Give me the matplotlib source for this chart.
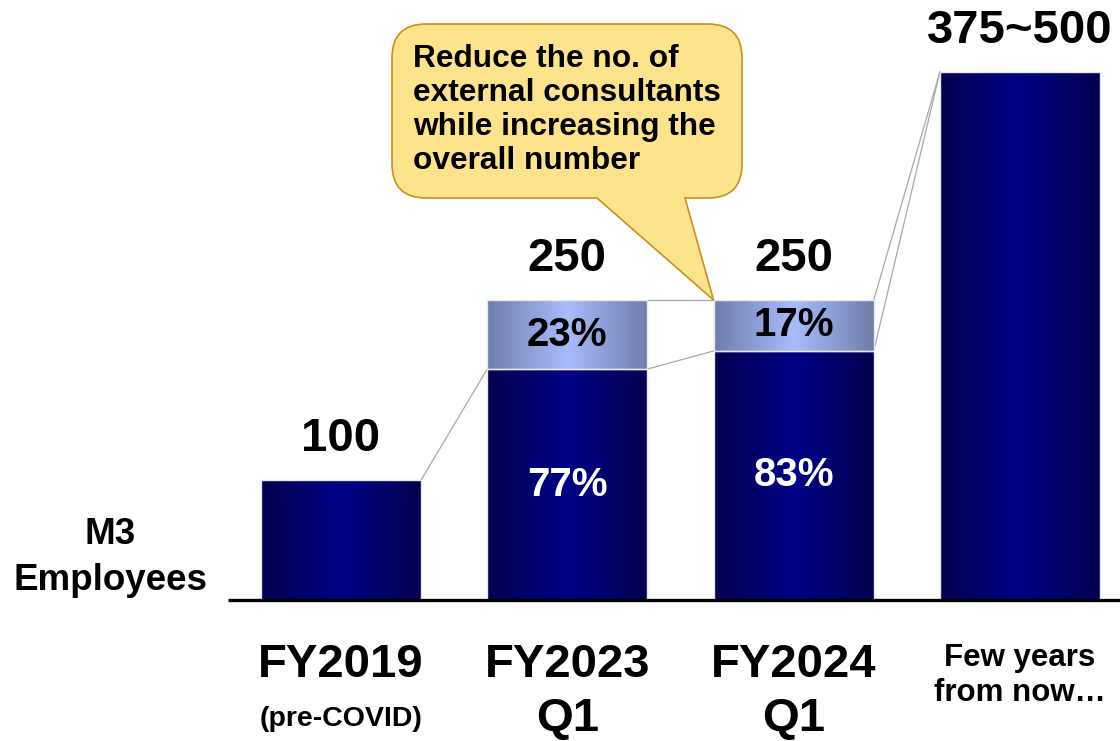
import numpy as np
import matplotlib.pyplot as plt
from matplotlib.colors import LinearSegmentedColormap
from matplotlib.path import Path
from matplotlib.patches import PathPatch
from matplotlib.transforms import Affine2D

# headcount per period
period_labels = ["FY2019", "FY2023", "FY2024", "Few years\nfrom now…"]
period_sublabels = ["(pre-COVID)", "Q1", "Q1", ""]
totals = [100, 250, 250, 440]
total_labels = ["100", "250", "250", "375~500"]
employee_share = [None, 77, 83, None]     # % in-house staff
consultant_share = [None, 23, 17, None]   # % external consultants
callout_text = "Reduce the no. of\nexternal consultants\nwhile increasing the\noverall number"

W, H = 1120, 741
FONT = "Liberation Sans"

fig = plt.figure(figsize=(W / 100, H / 100), dpi=100)
ax = fig.add_axes([0, 0, 1, 1])
ax.set_xlim(-1.507, 3.442)
ax.set_ylim(-117.5, 500)
ax.axis("off")

navy = LinearSegmentedColormap.from_list("navy", ["#000050", "#000086"])
lightblue = LinearSegmentedColormap.from_list("lb", ["#6e7eaa", "#a8bcfc"])
t = np.linspace(0, 1, 256)
profile = (1 - np.abs(2 * t - 1))[None, :]

bar_w = 0.708


def gradient_bar(x, y0, y1, cmap):
    x0, x1 = x - bar_w / 2, x + bar_w / 2
    ax.imshow(profile, cmap=cmap, extent=[x0, x1, y0, y1], aspect="auto",
              interpolation="bilinear", zorder=2)
    ax.add_patch(plt.Rectangle((x0, y0), bar_w, y1 - y0, fill=False,
                               edgecolor="#e8e8f0", lw=1.0, zorder=3))


tops = []   # (lower segment top, bar top)
for i, total in enumerate(totals):
    if employee_share[i] is None:
        gradient_bar(i, 0, total, navy)
        tops.append((total, total))
    else:
        split = total * employee_share[i] / 100
        gradient_bar(i, 0, split, navy)
        gradient_bar(i, split, total, lightblue)
        tops.append((split, total))
        ax.text(i, split / 2, f"{employee_share[i]}%", ha="center", va="center",
                color="white", fontsize=29, fontweight="bold", family=FONT, zorder=4)
        ax.text(i, (split + total) / 2, f"{consultant_share[i]}%", ha="center",
                va="center", color="black", fontsize=29, fontweight="bold",
                family=FONT, zorder=4)
    ax.annotate(total_labels[i], (i, total), xytext=(0, 29.5), textcoords="offset points",
                ha="center", va="center", fontsize=34, fontweight="bold",
                family=FONT, zorder=4)

# thin connector lines between neighbouring bars
gray = "#a8a8a8"
ax.plot([0 + bar_w / 2, 1 - bar_w / 2], [totals[0], tops[1][0]], color=gray, lw=0.9, zorder=1)
ax.plot([1 + bar_w / 2, 2 - bar_w / 2], [tops[1][0], tops[2][0]], color=gray, lw=0.9, zorder=1)
ax.plot([1 + bar_w / 2, 2 - bar_w / 2], [totals[1], totals[2]], color=gray, lw=0.9, zorder=1)
ax.plot([2 + bar_w / 2, 3 - bar_w / 2], [tops[2][0], totals[3]], color=gray, lw=0.9, zorder=1)
ax.plot([2 + bar_w / 2, 3 - bar_w / 2], [totals[2], totals[3]], color=gray, lw=0.9, zorder=1)

# baseline
ax.plot([-0.5, 3.442], [0, 0], color="black", lw=2.4, zorder=5, solid_capstyle="butt")

# category labels
for i, lab in enumerate(period_labels):
    if "\n" in lab:
        ax.text(i, -63, lab, ha="center", va="center", fontsize=22.5,
                fontweight="bold", family=FONT, linespacing=1.2)
    else:
        ax.text(i, -54, lab, ha="center", va="center", fontsize=34,
                fontweight="bold", family=FONT)
        ax.text(i, -99, period_sublabels[i], ha="center", va="center",
                fontsize=20.5 if i == 0 else 34, fontweight="bold", family=FONT)

ax.text(-1.02, 35.5, "M3\nEmployees", ha="center", va="center", fontsize=26.5,
        fontweight="bold", family=FONT, linespacing=1.4)

# speech bubble pointing at the consultant segment of FY2024
px = Affine2D().scale(1 / W, -1 / H).translate(0, 1) + ax.transAxes
tip_ax = (ax.transData + ax.transAxes.inverted()).transform((2 - bar_w / 2, totals[2]))
tip = (tip_ax[0] * W, (1 - tip_ax[1]) * H)
x0, x1, y0, y1, r = 392, 742, 24, 198, 34
tb1, tb2 = 597, 685
verts = [
    (x0 + r, y0), (x1 - r, y0), (x1, y0), (x1, y0 + r), (x1, y1 - r),
    (x1, y1), (x1 - r, y1), (tb2, y1), tip, (tb1, y1), (x0 + r, y1),
    (x0, y1), (x0, y1 - r), (x0, y0 + r), (x0, y0), (x0 + r, y0), (x0 + r, y0),
]
codes = [
    Path.MOVETO, Path.LINETO, Path.CURVE3, Path.CURVE3, Path.LINETO,
    Path.CURVE3, Path.CURVE3, Path.LINETO, Path.LINETO, Path.LINETO, Path.LINETO,
    Path.CURVE3, Path.CURVE3, Path.LINETO, Path.CURVE3, Path.CURVE3, Path.CLOSEPOLY,
]
ax.add_patch(PathPatch(Path(verts, codes), facecolor="#fde48c", edgecolor="#c8901e",
                       lw=1.2, transform=px, zorder=6))
ax.text(413 / W, 1 - 110 / H, callout_text, transform=ax.transAxes, ha="left",
        va="center", fontsize=22.8, fontweight="bold", family=FONT,
        linespacing=1.17, zorder=7)

fig.savefig("out.png", dpi=100)
